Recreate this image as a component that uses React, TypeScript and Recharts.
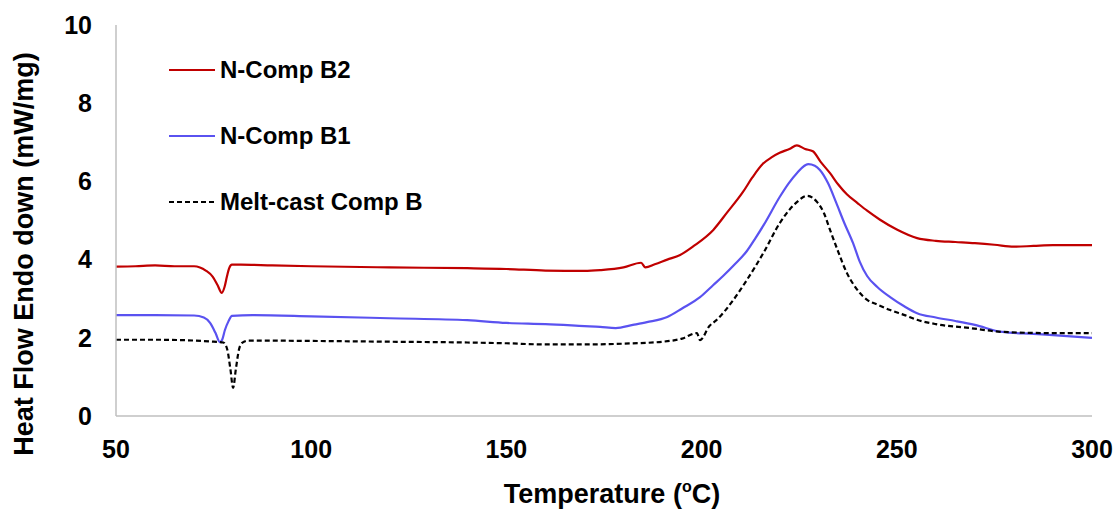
import React from "react";
import { LineChart, Line, XAxis, YAxis, Label } from "recharts";

// N-Comp B2 (red)
const b2Temp = [50, 55, 60, 65, 70, 71.5, 73, 74.8, 76, 77.1, 77.8, 78.4, 79, 79.7, 82, 90, 100, 120, 140, 150, 160, 170, 174, 180, 184.5, 185.6, 188, 191.2, 194.5, 198, 203, 206.5, 210.6, 213, 215.7, 218, 220, 222.5, 224.4, 226.5, 228.5, 230.5, 232.9, 235, 237.2, 240, 242.4, 245.7, 250, 255.2, 260, 265, 270, 275, 280, 285, 290, 300];
const b2Flow = [3.82, 3.83, 3.85, 3.83, 3.83, 3.8, 3.72, 3.56, 3.35, 3.15, 3.3, 3.56, 3.78, 3.87, 3.87, 3.85, 3.83, 3.8, 3.78, 3.76, 3.72, 3.71, 3.73, 3.8, 3.92, 3.8, 3.88, 4.0, 4.12, 4.35, 4.76, 5.2, 5.73, 6.1, 6.45, 6.62, 6.73, 6.83, 6.92, 6.83, 6.77, 6.5, 6.21, 5.92, 5.67, 5.44, 5.25, 5.02, 4.77, 4.55, 4.48, 4.45, 4.42, 4.38, 4.33, 4.35, 4.37, 4.37];

// N-Comp B1 (blue)
const b1Temp = [50, 60, 70, 72.5, 74.1, 75.5, 76.6, 77.2, 77.9, 78.8, 79.7, 85, 100, 120, 140, 150, 160, 170, 174, 178, 182.4, 186, 191.2, 195, 199.6, 203, 205.5, 208.5, 211.6, 213.8, 216, 220, 222.3, 224.4, 227.3, 229, 230.3, 232.4, 234.5, 236.5, 238.8, 240.5, 242.4, 245, 248.3, 252, 255.2, 260, 265, 270, 277, 285, 290, 300];
const b1Flow = [2.58, 2.58, 2.57, 2.52, 2.38, 2.12, 1.89, 1.95, 2.2, 2.42, 2.56, 2.58, 2.55, 2.5, 2.45, 2.38, 2.35, 2.3, 2.28, 2.25, 2.33, 2.4, 2.53, 2.75, 3.04, 3.35, 3.58, 3.88, 4.22, 4.55, 4.9, 5.6, 5.95, 6.21, 6.44, 6.4, 6.29, 5.95, 5.45, 4.95, 4.42, 3.95, 3.58, 3.3, 3.04, 2.8, 2.63, 2.52, 2.43, 2.33, 2.15, 2.1, 2.07, 2.0];

// Melt-cast Comp B (black dashed)
const mcTemp = [50, 60, 70, 75, 77.5, 78.5, 79.3, 80, 80.7, 81.5, 82.3, 84, 100, 120, 140, 150, 160, 170, 180, 190, 195, 198.8, 199.6, 202, 203.9, 208, 211.6, 216, 220, 222.3, 224.4, 227, 229.6, 231.3, 232.9, 235, 237.2, 239, 240.5, 242.4, 245, 248.3, 252, 255.2, 260, 268.7, 277.2, 290, 300];
const mcFlow = [1.95, 1.95, 1.93, 1.9, 1.88, 1.7, 1.2, 0.72, 1.2, 1.7, 1.87, 1.93, 1.92, 1.9, 1.88, 1.86, 1.83, 1.83, 1.85, 1.9, 1.98, 2.12, 1.94, 2.3, 2.46, 2.95, 3.48, 4.2, 4.93, 5.25, 5.47, 5.63, 5.47, 5.2, 4.76, 4.2, 3.66, 3.35, 3.15, 2.97, 2.85, 2.71, 2.58, 2.46, 2.35, 2.25, 2.15, 2.12, 2.12];

const xTicks = [50, 100, 150, 200, 250, 300];
const yTicks = [0, 2, 4, 6, 8, 10];

const toPoints = (ts: number[], vs: number[]) => ts.map((t, i) => ({ t, v: vs[i] }));

const series = [
  { name: "N-Comp B2", data: toPoints(b2Temp, b2Flow), color: "#C00000", dash: undefined },
  { name: "N-Comp B1", data: toPoints(b1Temp, b1Flow), color: "#5A52F0", dash: undefined },
  { name: "Melt-cast Comp B", data: toPoints(mcTemp, mcFlow), color: "#000000", dash: "5 3" },
];

const font = "'Liberation Sans', Arial, sans-serif";

// legend drawn as an overlay so it doesn't shrink the plot
const LegendBox = () => (
  <div
    style={{
      position: "absolute",
      left: 169,
      top: 37,
      fontFamily: font,
      fontWeight: "bold",
      fontSize: 24,
      color: "#000",
    }}
  >
    {series.map((s) => (
      <div key={s.name} style={{ display: "flex", alignItems: "center", height: 66 }}>
        <svg width={47} height={10} style={{ marginRight: 4 }}>
          <line x1={0} y1={5} x2={46} y2={5} stroke={s.color} strokeWidth={2.2} strokeDasharray={s.dash} />
        </svg>
        <span>{s.name}</span>
      </div>
    ))}
  </div>
);

export default function App() {
  return (
    <div style={{ position: "absolute", left: 0, top: 0, width: 1117, height: 510, background: "#fff" }}>
      <LineChart width={1117} height={510} margin={{ top: 25, right: 25, left: 0, bottom: 0 }}>
        <XAxis
          type="number"
          dataKey="t"
          domain={[50, 300]}
          ticks={xTicks}
          height={94}
          stroke="#BFBFBF"
          strokeWidth={1.5}
          tickLine={false}
          tickMargin={18}
          tick={{ fill: "#000", fontSize: 25, fontWeight: "bold", fontFamily: font }}
        >
          <Label
            content={() => (
              <text x={612} y={503} textAnchor="middle" fontFamily={font} fontWeight="bold" fontSize={27} fill="#000">
                Temperature (
                <tspan fontSize={16} dy={-11}>o</tspan>
                <tspan dy={11}>C)</tspan>
              </text>
            )}
          />
        </XAxis>
        <YAxis
          type="number"
          domain={[0, 10]}
          ticks={yTicks}
          width={116}
          stroke="#BFBFBF"
          strokeWidth={1.5}
          tickLine={false}
          tickMargin={18}
          tick={{ fill: "#000", fontSize: 25, fontWeight: "bold", fontFamily: font }}
        >
          <Label
            content={() => (
              <text
                x={33}
                y={254}
                transform="rotate(-90 33 254)"
                textAnchor="middle"
                fontFamily={font}
                fontWeight="bold"
                fontSize={27}
                fill="#000"
              >
                Heat Flow Endo down (mW/mg)
              </text>
            )}
          />
        </YAxis>
        {series.map((s) => (
          <Line
            key={s.name}
            data={s.data}
            dataKey="v"
            name={s.name}
            type="monotone"
            stroke={s.color}
            strokeWidth={2.2}
            strokeDasharray={s.dash}
            dot={false}
            isAnimationActive={false}
          />
        ))}
      </LineChart>
      <LegendBox />
    </div>
  );
}
